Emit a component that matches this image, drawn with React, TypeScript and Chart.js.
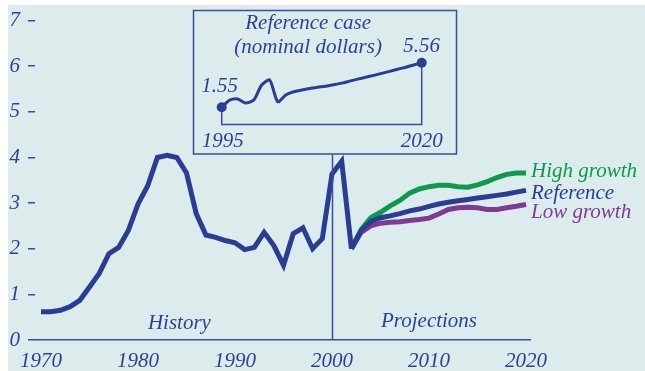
import React, { useEffect, useRef } from 'react';
import { Chart, registerables } from 'chart.js';

Chart.register(...registerables);

const historyYears = [1970, 1971, 1972, 1973, 1974, 1975, 1976, 1977, 1978, 1979, 1980, 1981, 1982, 1983, 1984, 1985, 1986, 1987, 1988, 1989, 1990, 1991, 1992, 1993, 1994, 1995, 1996, 1997, 1998, 1999, 2000, 2001, 2002];
const historyPrice = [0.62, 0.62, 0.65, 0.73, 0.87, 1.16, 1.46, 1.89, 2.03, 2.4, 2.98, 3.38, 4.0, 4.05, 4.0, 3.66, 2.77, 2.3, 2.25, 2.18, 2.13, 1.98, 2.03, 2.36, 2.07, 1.64, 2.33, 2.46, 2.0, 2.22, 3.64, 3.92, 2.0];

const projectionYears = [2002, 2003, 2004, 2005, 2006, 2007, 2008, 2009, 2010, 2011, 2012, 2013, 2014, 2015, 2016, 2017, 2018, 2019, 2020];
const highGrowth = [2.0, 2.42, 2.68, 2.8, 2.94, 3.06, 3.22, 3.31, 3.36, 3.39, 3.39, 3.36, 3.35, 3.4, 3.47, 3.56, 3.63, 3.66, 3.66];
const referenceCase = [2.0, 2.4, 2.6, 2.68, 2.72, 2.77, 2.83, 2.87, 2.93, 2.98, 3.02, 3.05, 3.08, 3.11, 3.14, 3.17, 3.2, 3.24, 3.28];
const lowGrowth = [2.0, 2.36, 2.5, 2.56, 2.58, 2.59, 2.62, 2.64, 2.67, 2.76, 2.86, 2.9, 2.91, 2.9, 2.86, 2.86, 2.9, 2.93, 2.97];

const seriesLabels = ['High growth', 'Reference', 'Low growth'];
const periodLabels = ['History', 'Projections'];

const xTickYears = [1970, 1980, 1990, 2000, 2010, 2020];
const yTickValues = [0, 1, 2, 3, 4, 5, 6, 7];

const insetYears = [1995, 1996, 1997, 1998, 1999, 2000, 2001, 2002, 2003, 2004, 2005, 2006, 2007, 2008, 2009, 2010, 2011, 2012, 2013, 2014, 2015, 2016, 2017, 2018, 2019, 2020];
const insetNominal = [1.55, 2.2, 2.3, 1.93, 2.2, 3.55, 4.0, 2.05, 2.65, 2.95, 3.1, 3.24, 3.35, 3.45, 3.58, 3.72, 3.9, 4.08, 4.25, 4.42, 4.6, 4.78, 4.97, 5.15, 5.35, 5.56];
const insetTitle = ['Reference case', '(nominal dollars)'];

const BLUE = '#2b3c94';
const TEXT_BLUE = '#2e3f98';
const THIN_BLUE = '#3b4b9f';
const GREEN = '#0e9a4e';
const PURPLE = '#7d3c92';
const BG = '#dcebeb';
const FONT_FAMILY = '"Liberation Serif", "Times New Roman", serif';
const FONT = `italic 21px ${FONT_FAMILY}`;

function pts(xs: number[], ys: number[]) {
  return xs.map((x, i) => ({ x, y: ys[i] }));
}

export default function App() {
  const mainRef = useRef<HTMLCanvasElement | null>(null);
  const insetRef = useRef<HTMLCanvasElement | null>(null);

  useEffect(() => {
    if (!mainRef.current || !insetRef.current) return;

    const mainPlugin = {
      id: 'mainDecor',
      beforeDraw(chart: any) {
        const ctx = chart.ctx;
        ctx.save();
        ctx.fillStyle = BG;
        ctx.fillRect(8, 5, chart.width - 8, chart.height - 5);
        ctx.restore();
      },
      afterDraw(chart: any) {
        const ctx = chart.ctx;
        const xs = chart.scales.x;
        const ys = chart.scales.y;
        ctx.save();
        // inset frame
        ctx.strokeStyle = THIN_BLUE;
        ctx.lineWidth = 1.5;
        ctx.strokeRect(193.5, 10.5, 263, 143.5);
        // divider at 2000
        const xd = Math.round(xs.getPixelForValue(2000)) + 0.5;
        ctx.beginPath();
        ctx.moveTo(xd, 154.25);
        ctx.lineTo(xd, ys.getPixelForValue(0));
        ctx.stroke();
        // labels
        ctx.font = FONT;
        ctx.textBaseline = 'middle';
        ctx.textAlign = 'center';
        ctx.fillStyle = TEXT_BLUE;
        ctx.fillText(periodLabels[0], xs.getPixelForValue(1984.27), ys.getPixelForValue(0.37));
        ctx.fillText(periodLabels[1], xs.getPixelForValue(2010.0), ys.getPixelForValue(0.41));
        ctx.textAlign = 'left';
        const lx = xs.getPixelForValue(2020) + 5;
        ctx.fillStyle = GREEN;
        ctx.fillText(seriesLabels[0], lx, ys.getPixelForValue(3.69));
        ctx.fillStyle = BLUE;
        ctx.fillText(seriesLabels[1], lx, ys.getPixelForValue(3.21));
        ctx.fillStyle = PURPLE;
        ctx.fillText(seriesLabels[2], lx, ys.getPixelForValue(2.8));
        ctx.restore();
      },
    };

    const lineBase = { borderWidth: 5, pointRadius: 0, tension: 0, fill: false, borderCapStyle: 'butt', borderJoinStyle: 'miter' };

    const main = new Chart(mainRef.current, {
      type: 'line',
      data: {
        datasets: [
          { ...lineBase, label: 'History', data: pts(historyYears, historyPrice), borderColor: BLUE },
          { ...lineBase, label: seriesLabels[1], data: pts(projectionYears, referenceCase), borderColor: BLUE },
          { ...lineBase, label: seriesLabels[2], data: pts(projectionYears, lowGrowth), borderColor: PURPLE },
          { ...lineBase, label: seriesLabels[0], data: pts(projectionYears, highGrowth), borderColor: GREEN },
        ] as any,
      },
      options: {
        animation: false,
        responsive: false,
        devicePixelRatio: 1,
        layout: { padding: { left: 0, top: 19, right: 115, bottom: 0 } },
        plugins: { legend: { display: false }, tooltip: { enabled: false }, title: { display: false } },
        scales: {
          x: {
            type: 'linear',
            min: 1969.38,
            max: 2020.41,
            afterBuildTicks: (s: any) => { s.ticks = xTickYears.map((v) => ({ value: v })); },
            afterFit: (s: any) => { s.height = 31; },
            grid: { display: false, drawTicks: false, drawOnChartArea: false },
            border: { display: true, color: THIN_BLUE, width: 1.5 },
            ticks: { color: TEXT_BLUE, font: { family: FONT_FAMILY, style: 'italic', size: 21 }, padding: 9, maxRotation: 0, autoSkip: false, callback: (v: any) => String(v) },
          },
          y: {
            type: 'linear',
            min: 0,
            max: 7,
            afterBuildTicks: (s: any) => { s.ticks = yTickValues.map((v) => ({ value: v })); },
            afterFit: (s: any) => { s.width = 35; },
            grid: { display: true, drawOnChartArea: false, drawTicks: true, tickLength: 7, color: THIN_BLUE, lineWidth: 1.5 },
            border: { display: false },
            ticks: { color: TEXT_BLUE, font: { family: FONT_FAMILY, style: 'italic', size: 21 }, padding: 8, autoSkip: false },
          },
        },
      } as any,
      plugins: [mainPlugin],
    });

    const insetPlugin = {
      id: 'insetDecor',
      afterDraw(chart: any) {
        const ctx = chart.ctx;
        const xs = chart.scales.x;
        const ys = chart.scales.y;
        const top = chart.chartArea.top;
        const n = insetYears.length - 1;
        ctx.save();
        ctx.font = FONT;
        ctx.textBaseline = 'middle';
        ctx.textAlign = 'center';
        ctx.fillStyle = TEXT_BLUE;
        const tx = xs.getPixelForValue(2005.8);
        ctx.fillText(insetTitle[0], tx, top - 39);
        ctx.fillText(insetTitle[1], tx, top - 15);
        ctx.fillText(insetNominal[0].toFixed(2), xs.getPixelForValue(insetYears[0]) - 2, ys.getPixelForValue(insetNominal[0]) - 21);
        ctx.fillText(insetNominal[n].toFixed(2), xs.getPixelForValue(insetYears[n]), ys.getPixelForValue(insetNominal[n]) - 16);
        ctx.fillText(String(insetYears[0]), xs.getPixelForValue(insetYears[0]) + 1, ys.getPixelForValue(0) + 16.5);
        ctx.fillText(String(insetYears[n]), xs.getPixelForValue(insetYears[n]), ys.getPixelForValue(0) + 17);
        ctx.restore();
      },
    };

    const n = insetYears.length - 1;
    const bracket = [
      { x: insetYears[0], y: insetNominal[0] },
      { x: insetYears[0], y: 0 },
      { x: insetYears[n], y: 0 },
      { x: insetYears[n], y: insetNominal[n] },
    ];

    const inset = new Chart(insetRef.current, {
      type: 'line',
      data: {
        datasets: [
          {
            label: 'Nominal',
            data: pts(insetYears, insetNominal),
            borderColor: BLUE,
            backgroundColor: BLUE,
            borderWidth: 3,
            tension: 0.25,
            pointRadius: (c: any) => (c.dataIndex === 0 || c.dataIndex === n ? 5 : 0),
            pointBorderWidth: 0,
            clip: false,
          },
          {
            label: 'bracket',
            data: bracket,
            borderColor: THIN_BLUE,
            borderWidth: 1.5,
            pointRadius: 0,
            tension: 0,
            clip: false,
          },
        ] as any,
      },
      options: {
        animation: false,
        responsive: false,
        devicePixelRatio: 1,
        layout: { padding: { left: 221.7, right: 223.3, top: 62.7, bottom: 246.5 } },
        plugins: { legend: { display: false }, tooltip: { enabled: false } },
        scales: {
          x: { type: 'linear', display: false, min: insetYears[0], max: insetYears[n] },
          y: { type: 'linear', display: false, min: 0, max: insetNominal[n] },
        },
      } as any,
      plugins: [insetPlugin],
    });

    return () => {
      main.destroy();
      inset.destroy();
    };
  }, []);

  const canvasStyle: React.CSSProperties = { position: 'fixed', left: 0, top: 0, width: 645, height: 371 };
  return (
    <div>
      <canvas ref={mainRef} width={645} height={371} style={canvasStyle} />
      <canvas ref={insetRef} width={645} height={371} style={{ ...canvasStyle, pointerEvents: 'none' }} />
    </div>
  );
}
